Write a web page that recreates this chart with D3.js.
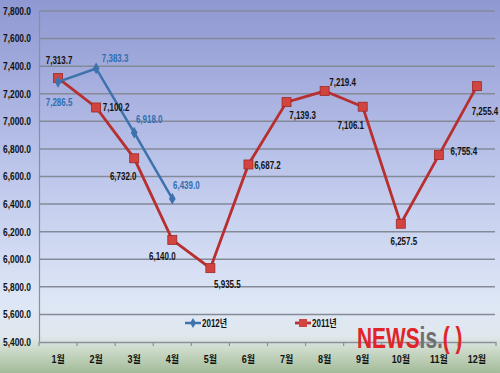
<!DOCTYPE html>
<html>
<head>
<meta charset="utf-8">
<script src="https://d3js.org/d3.v7.min.js"></script>
<style>
  body { margin: 0; padding: 0; }
  svg text { font-family: "Liberation Sans", Arial, "Noto Sans CJK KR", sans-serif; font-weight: bold; }
</style>
</head>
<body>
<script>
// data
var months = ["1월","2월","3월","4월","5월","6월","7월","8월","9월","10월","11월","12월"];
var values2011 = [7313.7, 7100.2, 6732.0, 6140.0, 5935.5, 6687.2, 7139.3, 7219.4, 7106.1, 6257.5, 6755.4, 7255.4];
var values2012 = [7286.5, 7383.3, 6918.0, 6439.0];
var yTicks = [5400, 5600, 5800, 6000, 6200, 6400, 6600, 6800, 7000, 7200, 7400, 7600, 7800];

// label offsets (dx, dy) from each point
var off2011 = [[1,-18],[20,0],[-11,18],[-10,16],[17,16],[19,1],[16,13],[18,-9],[-12,19],[3,18],[25,-4],[8,25]];
var off2012 = [[1,21],[19,-10],[15,-13],[14,-13]];

var W = 500, H = 373;
var svg = d3.select("body").append("svg").attr("width", W).attr("height", H);

var defs = svg.append("defs");
var g = defs.append("linearGradient").attr("id","bg").attr("x1",0).attr("y1",0).attr("x2",0).attr("y2",1);
g.append("stop").attr("offset","0%").attr("stop-color","#8f98d2");
g.append("stop").attr("offset","45%").attr("stop-color","#bcc5ea");
g.append("stop").attr("offset","80%").attr("stop-color","#dde6f6");
g.append("stop").attr("offset","90%").attr("stop-color","#e0e8ee");
g.append("stop").attr("offset","94%").attr("stop-color","#cbd9c8");
g.append("stop").attr("offset","100%").attr("stop-color","#a3bb98");
svg.append("rect").attr("width", W).attr("height", H).attr("fill","url(#bg)");

var x = d3.scaleBand().domain(months).range([39, 496]);
var y = d3.scaleLinear().domain([5400, 7800]).range([342, 11]);
var cx = function(i) { return x(months[i]) + x.bandwidth() / 2; };
var narrow = 0.76;

// grid
svg.append("g").selectAll("line").data(yTicks.slice(1)).enter().append("line")
  .attr("x1", 39).attr("x2", 495)
  .attr("y1", function(d){ return y(d); }).attr("y2", function(d){ return y(d); })
  .attr("stroke", "#858a98").attr("stroke-width", 1.5);

// y axis
var yAxis = svg.append("g").attr("transform","translate(39,0)")
  .call(d3.axisLeft(y).tickValues(yTicks).tickSize(0).tickPadding(10).tickFormat(d3.format(",.1f")));
yAxis.select(".domain").attr("stroke","#8a8f9a").attr("stroke-width",1.2);
yAxis.selectAll("text").attr("font-size", 10.5).attr("fill", "#111").attr("transform","scale(0.8,1)");

// x axis
var xAxis = svg.append("g").attr("transform","translate(0,342)")
  .call(d3.axisBottom(x).tickSize(0).tickPadding(14));
xAxis.select(".domain").attr("stroke","#8a8f9a").attr("stroke-width",1.5);
xAxis.selectAll("text").attr("font-size", 10).attr("fill", "#111").attr("transform","scale(0.9,1)");
svg.append("g").selectAll("line").data(d3.range(months.length + 1)).enter().append("line")
  .attr("x1", function(i){ return 39 + i * x.bandwidth(); })
  .attr("x2", function(i){ return 39 + i * x.bandwidth(); })
  .attr("y1", 342).attr("y2", 346).attr("stroke","#8a8f9a").attr("stroke-width",1.2);

var line = d3.line().x(function(d,i){ return cx(i); }).y(function(d){ return y(d); });

// 2011
svg.append("path").datum(values2011).attr("d", line)
  .attr("fill","none").attr("stroke","#b7302f").attr("stroke-width",2.8);
svg.append("g").selectAll("rect").data(values2011).enter().append("rect")
  .attr("x", function(d,i){ return cx(i) - 4.5; }).attr("y", function(d){ return y(d) - 4.5; })
  .attr("width", 9).attr("height", 9)
  .attr("fill","#d2443f").attr("stroke","#9e2a28").attr("stroke-width",0.8);

// 2012
var blue = "#3d72ad";
svg.append("path").datum(values2012).attr("d", line)
  .attr("fill","none").attr("stroke", blue).attr("stroke-width",2.5);
svg.append("g").selectAll("path").data(values2012).enter().append("path")
  .attr("d", d3.symbol().type(d3.symbolDiamond).size(40))
  .attr("transform", function(d,i){ return "translate(" + cx(i) + "," + y(d) + ")"; })
  .attr("fill", blue);

// labels
var fmt = d3.format(",.1f");
function labels(vals, off, color) {
  svg.append("g").selectAll("text").data(vals).enter().append("text")
    .attr("transform", function(d,i){
      return "translate(" + (cx(i) + off[i][0]) + "," + (y(d) + off[i][1]) + ") scale(" + narrow + ",1)";
    })
    .attr("dy","0.35em").attr("text-anchor","middle")
    .attr("font-size", 10.5).attr("fill", color).text(fmt);
}
labels(values2011, off2011, "#111");
labels(values2012, off2012, "#2e6fb3");

// legend
var lg = svg.append("g");
lg.append("line").attr("x1",185).attr("x2",201).attr("y1",323).attr("y2",323).attr("stroke",blue).attr("stroke-width",2.5);
lg.append("path").attr("d", d3.symbol().type(d3.symbolDiamond).size(30)).attr("transform","translate(193,323)").attr("fill",blue);
lg.append("text").attr("transform","translate(202,323) scale(0.8,1)").attr("dy","0.35em").attr("font-size",10).attr("fill","#111").text("2012년");
lg.append("line").attr("x1",295).attr("x2",311).attr("y1",323).attr("y2",323).attr("stroke","#b7302f").attr("stroke-width",2.8);
lg.append("rect").attr("x",299).attr("y",319).attr("width",8).attr("height",8).attr("fill","#d2443f");
lg.append("text").attr("transform","translate(312,323) scale(0.8,1)").attr("dy","0.35em").attr("font-size",10).attr("fill","#111").text("2011년");

// watermark
var wm = svg.append("text").attr("transform","translate(357,348) scale(0.72,1)").attr("font-size",29).attr("font-weight","bold");
wm.append("tspan").attr("fill","#e0242a").text("NEWS");
wm.append("tspan").attr("fill","#6f6f72").text("is.");
wm.append("tspan").attr("fill","#e0242a").text("(  )");
</script>
</body>
</html>
